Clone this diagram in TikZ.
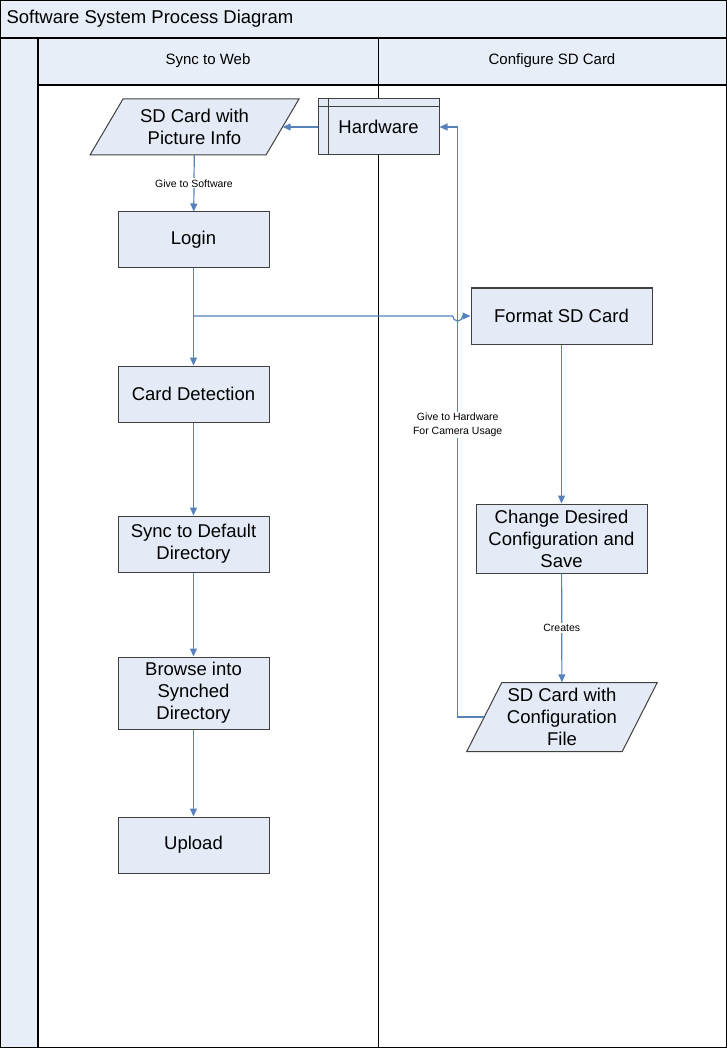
\documentclass[tikz,border=0pt]{standalone}
\usepackage{fontspec}
\setmainfont{Liberation Sans}
\usetikzlibrary{arrows.meta,calc}
\definecolor{lanefill}{RGB}{232,238,247}
\definecolor{boxfill}{RGB}{228,235,246}
\definecolor{boxline}{RGB}{64,64,64}
\definecolor{arr}{RGB}{86,129,187}
\tikzset{
  proc/.style={draw=boxline, fill=boxfill, line width=1pt, align=center, inner sep=0pt,
    font=\fontsize{18.5}{22}\selectfont, minimum width=151pt, minimum height=56pt},
  ptext/.style={draw=none, align=center, inner sep=0pt, font=\fontsize{18.5}{22}\selectfont},
  pshape/.style={draw=boxline, fill=boxfill, line width=1pt},
  conn/.style={draw=arr, line width=1.2pt, -{Triangle[length=8pt,width=7pt]}},
  lbl/.style={fill=white, inner sep=1pt, align=center, font=\fontsize{10.5}{14}\selectfont},
  lanehead/.style={font=\fontsize{15}{18}\selectfont},
  grid/.style={draw=black, line width=1.2pt}
}
\begin{document}
\begin{tikzpicture}[x=1pt,y=-1pt]
\useasboundingbox (0,0) rectangle (727,1048);
% swimlane backgrounds
\fill[lanefill] (0,0) rectangle (727,38);
\fill[lanefill] (0,38) rectangle (38,1048);
\fill[lanefill] (38,38) rectangle (727,85);
\draw[grid] (0.6,0.6) rectangle (726.4,1047.4);
\draw[draw=black, line width=1.8pt] (0,38) -- (727,38);
\draw[grid] (38,38) -- (38,1048);
\draw[grid] (38,85) -- (727,85);
\draw[grid] (378.5,38) -- (378.5,1048);
\node[anchor=west, font=\fontsize{18.5}{22}\selectfont] (title) at (3,18.5) {Software System Process Diagram};
\node[lanehead] (lane1) at (208,61) {Sync to Web};
\node[lanehead] (lane2) at (552,61) {Configure SD Card};

% SD card with picture info (parallelogram)
\coordinate (picC) at (194.5,127);
\draw[pshape] ($(picC)+(-71.5,-28)$) -- ($(picC)+(104.5,-28)$) -- ($(picC)+(71.5,28)$) -- ($(picC)+(-104.5,28)$) -- cycle;
\node[ptext, minimum width=176pt, minimum height=56pt] (pic) at (picC) {SD Card with\\Picture Info};

% Hardware
\node[proc, minimum width=121pt, minimum height=56pt] (hw) at (378.5,127) {Hardware};
\draw[draw=boxline, line width=1pt] ($(hw.north west)+(0,8)$) -- ($(hw.north east)+(0,8)$);
\draw[draw=boxline, line width=1pt] ($(hw.north west)+(11,0)$) -- ($(hw.south west)+(11,0)$);

% left lane
\node[proc] (login) at (193.5,240) {Login};
\node[proc] (card) at (193.5,394) {Card Detection};
\node[proc] (sync) at (193.5,544) {Sync to Default\\Directory};
\node[proc, minimum height=72pt] (browse) at (193.5,693) {Browse into\\Synched\\Directory};
\node[proc] (upload) at (193.5,845) {Upload};

% right lane
\node[proc, minimum width=181pt] (fmt) at (561.5,316) {Format SD Card};
\node[proc, minimum width=171pt, minimum height=69pt] (chg) at (561.5,538.5) {Change Desired\\Configuration and\\Save};
\coordinate (cfgC) at (562,717);
\draw[pshape] ($(cfgC)+(-60.25,-34.5)$) -- ($(cfgC)+(95.25,-34.5)$) -- ($(cfgC)+(60.25,34.5)$) -- ($(cfgC)+(-95.25,34.5)$) -- cycle;
\node[ptext, minimum width=155.5pt, minimum height=69pt] (cfg) at (cfgC) {SD Card with\\Configuration\\File};

% connectors
\draw[conn] (hw.west) -- (pic.east);
\draw[conn] (pic) -- node[lbl] (lblsw) {Give to Software} (login);
\draw[conn] (login) -- (card);
\draw[conn] (card) -- (sync);
\draw[conn] (sync) -- (browse);
\draw[conn] (browse) -- (upload);
\coordinate (br) at (193.5,316);
\coordinate (rx) at (457.7,0);
\coordinate (hop) at (457.7,316);
\draw[conn] (br) -- ($(hop)+(-5,0)$) arc (180:0:5) -- (fmt.west);
\draw[conn] (fmt) -- (chg);
\draw[conn] (chg) -- node[lbl, pos=0.5] (lblcr) {Creates} (cfg);
\draw[conn] (cfg.west) -- (cfg.west -| rx) -- (rx |- hw.east) -- (hw.east);
\node[lbl] (lblhw) at (457.7,425) {Give to Hardware\\For Camera Usage};
\end{tikzpicture}
\end{document}
